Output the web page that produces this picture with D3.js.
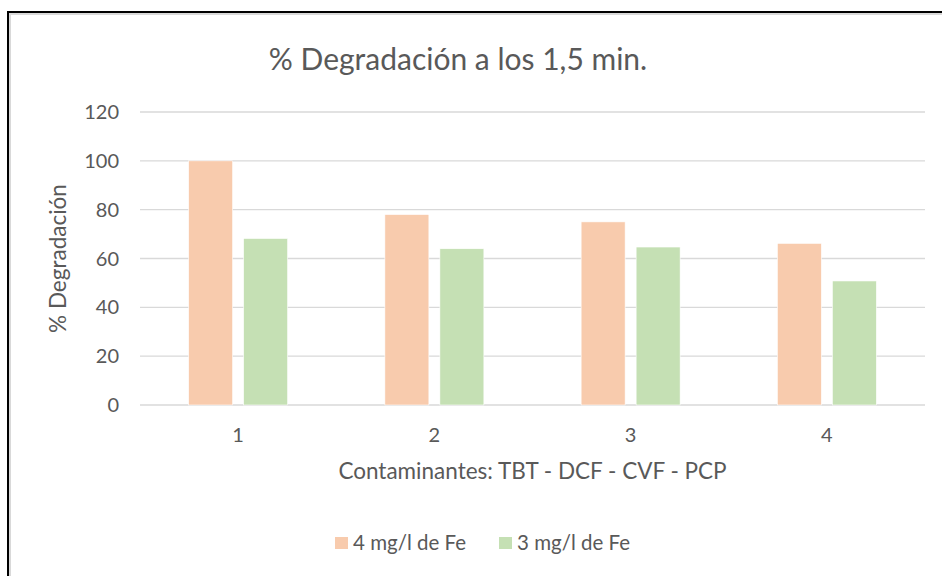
<!DOCTYPE html>
<html>
<head>
<meta charset="utf-8">
<script src="https://cdn.jsdelivr.net/npm/d3@7"></script>
<style>
  body { margin: 0; background: #fff; }
  text { font-family: Lato, "Open Sans", sans-serif; fill: #595959; }
</style>
</head>
<body>
<div id="chart"></div>
<script>
// categories and series
var categories = ["1", "2", "3", "4"];
var seriesNames = ["4 mg/l de Fe", "3 mg/l de Fe"];
var fe4 = [100, 78, 75, 66.2];
var fe3 = [68.2, 64, 64.7, 50.8];
var yTicks = [0, 20, 40, 60, 80, 100, 120];
var colors = ["#F8CBAD", "#C5E0B4"];

var svgWidth = 942, svgHeight = 576;
var margin = { top: 112, left: 140, right: 17, bottom: 171 };
var width = svgWidth - margin.left - margin.right;
var height = svgHeight - margin.top - margin.bottom;

var svg = d3.select("#chart").append("svg")
  .attr("width", svgWidth)
  .attr("height", svgHeight);

// chart frame (cropped on right / bottom)
svg.append("rect")
  .attr("x", 10).attr("y", 14)
  .attr("width", 960).attr("height", 600)
  .attr("fill", "none").attr("stroke", "#d9d9d9").attr("stroke-width", 2);
svg.append("rect")
  .attr("x", 8).attr("y", 12)
  .attr("width", 960).attr("height", 600)
  .attr("fill", "none").attr("stroke", "#000").attr("stroke-width", 2);

var g = svg.append("g")
  .attr("transform", "translate(" + margin.left + "," + margin.top + ")");

var x0 = d3.scaleBand().domain(categories).range([0, width]).padding(0);
var y = d3.scaleLinear().domain([0, 120]).range([height, 0]);

// gridlines
g.selectAll(".grid").data(yTicks).enter().append("line")
  .attr("x1", 0).attr("x2", width)
  .attr("y1", function (d) { return y(d); })
  .attr("y2", function (d) { return y(d); })
  .attr("stroke", "#d9d9d9").attr("stroke-width", 1.3);

// y tick labels
g.selectAll(".ytick").data(yTicks).enter().append("text")
  .attr("x", -21)
  .attr("y", function (d) { return y(d) + 7; })
  .attr("text-anchor", "end")
  .style("font-size", "20px")
  .text(function (d) { return d; });

// bars
var barW = 44, gap = 11;
var series = [fe4, fe3];
series.forEach(function (vals, si) {
  g.selectAll(".bar" + si).data(vals).enter().append("rect")
    .attr("x", function (d, i) {
      var c = x0(categories[i]) + x0.bandwidth() / 2;
      return si === 0 ? c - gap / 2 - barW : c + gap / 2;
    })
    .attr("y", function (d) { return y(d); })
    .attr("width", barW)
    .attr("height", function (d) { return height - y(d); })
    .attr("fill", colors[si])
    .attr("stroke", "#fff").attr("stroke-width", 0.6);
});

// x tick labels
g.selectAll(".xtick").data(categories).enter().append("text")
  .attr("x", function (d) { return x0(d) + x0.bandwidth() / 2; })
  .attr("y", height + 37)
  .attr("text-anchor", "middle")
  .style("font-size", "20px")
  .text(function (d) { return d; });

// titles
svg.append("text")
  .attr("x", 458).attr("y", 70)
  .attr("text-anchor", "middle")
  .style("font-size", "30px")
  .text("% Degradación a los 1,5 min.");

svg.append("text")
  .attr("transform", "translate(66," + (margin.top + y(60)) + ") rotate(-90)")
  .attr("text-anchor", "middle")
  .style("font-size", "22.5px")
  .text("% Degradación");

svg.append("text")
  .attr("x", margin.left + width / 2).attr("y", 479)
  .attr("text-anchor", "middle")
  .style("font-size", "22.5px")
  .text("Contaminantes: TBT - DCF - CVF - PCP");

// legend
var legendX = [335, 499];
var legend = svg.selectAll(".legend").data(seriesNames).enter().append("g")
  .attr("transform", function (d, i) { return "translate(" + legendX[i] + ",537)"; });
legend.append("rect")
  .attr("width", 13).attr("height", 12)
  .attr("fill", function (d, i) { return colors[i]; });
legend.append("text")
  .attr("x", 18).attr("y", 13)
  .style("font-size", "20.5px")
  .text(function (d) { return d; });
</script>
</body>
</html>
